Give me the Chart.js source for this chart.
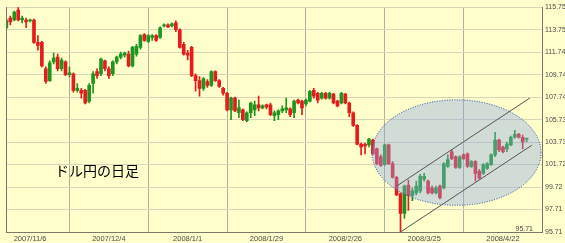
<!DOCTYPE html>
<html><head><meta charset="utf-8">
<script src="https://cdn.jsdelivr.net/npm/chart.js@4.4.1/dist/chart.umd.min.js"></script>
<style>html,body{margin:0;padding:0;background:#ffffcc;overflow:hidden;} canvas{display:block;}</style>
</head><body>
<canvas id="c" width="565" height="243"></canvas>
<script>
// ---- data (USD/JPY daily) ----
const xTickIdx = [6, 26, 46, 66, 86, 106, 126];
const xTickLabels = ['2007/11/6', '2007/12/4', '2008/1/1', '2008/1/29', '2008/2/26', '2008/3/25', '2008/4/22'];
const yTickValues = [95.71, 97.714, 99.718, 101.722, 103.726, 105.73, 107.734, 109.738, 111.742, 113.746, 115.75];
const yTickLabels = ['95.71', '97.71', '99.72', '101.72', '103.73', '105.73', '107.74', '109.74', '111.74', '113.75', '115.75'];

const open = [
113.92,114.79,114.61,115.49,114.61,114.61,114.53,114.61,112.61,112.61,
110.26,109.21,110.87,111.30,110.26,110.87,109.74,109.82,108.34,108.34,
108.34,107.38,108.95,110.00,109.82,110.96,110.26,109.82,110.87,111.30,
111.48,111.57,110.52,111.57,112.17,113.31,112.70,113.05,113.22,113.05,
114.09,114.18,114.09,114.35,113.74,112.44,111.65,112.17,109.65,109.21,
108.52,109.13,108.78,110.00,109.21,108.52,108.08,106.60,107.65,106.34,
106.60,105.64,106.34,106.60,107.04,106.77,107.04,107.04,106.08,106.17,
106.51,106.60,106.69,106.34,107.47,107.38,107.12,107.38,108.34,108.08,
107.65,108.08,107.65,108.00,107.38,107.21,108.00,107.21,106.34,105.21,
103.55,103.55,103.47,103.90,103.12,102.42,101.72,103.47,101.81,100.59,
99.11,97.37,99.89,98.94,99.20,99.37,100.42,100.24,99.63,99.20,
99.81,99.63,101.55,102.86,102.42,101.46,102.59,102.68,101.55,101.98,
101.11,100.94,101.38,101.72,102.59,103.90,103.29,103.12,103.47,104.16,
104.42,104.16,103.99
];
const high = [
114.79,114.96,115.40,115.83,114.96,114.79,114.70,114.70,113.22,112.70,
110.43,110.96,111.65,111.57,111.22,110.96,110.43,109.91,108.95,108.52,
108.43,108.95,110.00,110.26,111.22,111.04,110.43,110.96,111.39,111.74,
111.74,111.83,112.26,112.44,113.31,113.39,113.31,113.31,113.31,114.00,
114.27,114.27,114.35,114.53,113.83,112.61,111.91,112.26,109.82,109.56,
109.47,109.30,110.08,110.08,109.30,108.60,108.17,107.73,107.73,107.47,
106.69,106.43,107.30,107.38,107.82,107.04,107.12,107.21,106.51,106.60,
106.95,107.65,106.77,107.47,107.56,107.47,107.56,108.34,108.52,108.17,
108.17,108.17,108.17,108.08,107.47,108.17,108.08,107.30,106.43,105.29,
103.64,103.64,104.07,103.99,103.20,102.59,103.55,103.55,101.98,100.68,
99.20,99.89,100.33,99.63,100.24,100.85,100.94,100.33,99.81,99.81,
99.89,101.90,102.59,103.03,102.51,102.51,102.68,102.77,102.07,102.07,
101.29,101.81,101.90,102.68,104.60,103.99,103.38,103.73,104.25,104.77,
104.51,104.34,104.07
];
const low = [
113.74,114.18,114.53,114.53,114.35,113.92,114.44,112.52,111.91,110.43,
108.95,109.13,110.69,110.08,110.08,109.65,109.56,108.17,108.17,107.65,
107.12,107.21,108.08,109.39,109.65,110.08,109.39,109.65,110.69,111.13,
111.30,110.43,110.43,111.39,112.00,112.70,112.61,112.78,112.70,112.96,
114.00,113.92,114.00,113.57,112.09,111.48,111.04,109.56,108.26,107.82,
108.34,108.60,108.69,109.13,108.60,107.91,106.51,105.73,106.43,105.90,
105.64,105.55,105.90,106.08,106.51,106.69,106.69,106.08,105.64,105.73,
106.34,106.34,105.99,105.90,107.12,106.17,106.95,107.30,107.65,107.21,
107.56,107.56,107.56,107.12,106.86,107.12,107.12,105.99,105.12,103.47,
102.59,102.68,103.29,102.59,101.72,101.55,101.64,101.72,100.50,98.94,
95.71,96.93,97.63,98.50,99.02,99.20,100.24,99.11,99.11,99.11,
98.67,99.55,101.46,102.16,101.38,101.38,102.16,101.46,101.46,100.24,
100.42,100.85,101.29,101.64,102.42,102.86,102.77,102.86,103.38,104.07,
104.07,103.12,103.73
];
const close = [
114.61,114.44,115.31,114.61,114.79,114.44,114.61,112.61,112.35,110.52,
109.13,110.78,111.22,110.26,111.04,109.74,109.91,108.34,108.52,108.08,
107.21,108.78,109.82,109.65,111.13,110.26,109.65,110.87,111.30,111.57,
111.65,110.52,112.17,112.26,113.22,112.78,113.22,113.22,112.78,113.92,
114.18,114.00,114.27,113.74,112.17,111.57,111.48,109.65,109.21,108.52,
109.39,108.78,110.00,109.21,108.69,108.08,106.60,107.65,106.51,106.77,
105.73,106.34,107.21,107.04,106.77,106.95,106.86,106.17,106.34,106.51,
106.69,106.77,106.17,107.38,107.21,106.77,107.47,108.26,107.82,107.47,
108.08,107.65,108.08,107.21,106.95,108.08,107.21,106.34,105.21,103.55,
103.29,103.38,103.99,102.68,101.81,101.64,103.47,101.81,100.59,99.02,
97.37,99.81,98.94,99.37,99.81,100.68,100.68,99.20,99.20,99.63,
98.76,101.81,102.16,102.25,101.46,102.42,102.25,101.55,101.98,100.94,
100.50,101.72,101.81,102.59,103.90,103.03,102.86,103.55,104.16,104.42,
104.16,103.73,104.07
];

// annotations (in data units: [day index, price])
const ellipseCenter = [114.2, 102.79];
const ellipseRadius = [21.44, 4.70];
const channelLower = [[100, 95.71], [133.3, 103.44]];
const channelUpper = [[99, 99.80], [132.8, 107.65]];
const lowLabel = '95.71';
const titleText = 'ドル円の日足';

// ---- chart ----
const idx = open.map((_, i) => i);
const UP = '#1d961d', DOWN = '#e41c1c';
const colorOf = i => (close[i] >= open[i] ? UP : DOWN);

const overlay = {
  id: 'overlay',
  beforeDraw(chart) {
    const ctx = chart.ctx;
    ctx.save();
    ctx.fillStyle = '#ffffcc';
    ctx.fillRect(0, 0, chart.width, chart.height);
    ctx.restore();
  },
  afterDatasetsDraw(chart) {
    const ctx = chart.ctx, a = chart.chartArea;
    const xs = chart.scales.x, ys = chart.scales.y;
    ctx.save();
    ctx.beginPath();
    ctx.rect(a.left, a.top, a.right - a.left, a.bottom - a.top);
    ctx.clip();
    // ellipse
    const cx = xs.getPixelForValue(ellipseCenter[0]);
    const cy = ys.getPixelForValue(ellipseCenter[1]);
    const rx = xs.getPixelForValue(ellipseCenter[0] + ellipseRadius[0]) - cx;
    const ry = cy - ys.getPixelForValue(ellipseCenter[1] + ellipseRadius[1]);
    ctx.beginPath();
    ctx.ellipse(cx, cy, rx, ry, 0, 0, Math.PI * 2);
    ctx.fillStyle = 'rgba(142,167,231,0.40)';
    ctx.fill();
    ctx.setLineDash([1, 1.5]);
    ctx.strokeStyle = '#2846a8';
    ctx.lineWidth = 1;
    ctx.stroke();
    ctx.setLineDash([]);
    // channel lines
    ctx.strokeStyle = '#555555';
    ctx.lineWidth = 1;
    [channelLower, channelUpper].forEach(l => {
      ctx.beginPath();
      ctx.moveTo(xs.getPixelForValue(l[0][0]), ys.getPixelForValue(l[0][1]));
      ctx.lineTo(xs.getPixelForValue(l[1][0]), ys.getPixelForValue(l[1][1]));
      ctx.stroke();
    });
    ctx.restore();
    // left axis line
    ctx.save();
    ctx.strokeStyle = '#7a7a6a';
    ctx.lineWidth = 1;
    ctx.beginPath();
    ctx.moveTo(a.left + 0.5, a.top);
    ctx.lineTo(a.left + 0.5, a.bottom);
    ctx.stroke();
    // low label
    ctx.font = '7px "Liberation Sans", Arial, sans-serif';
    ctx.fillStyle = '#444444';
    ctx.textAlign = 'right';
    ctx.textBaseline = 'alphabetic';
    ctx.fillText(lowLabel, a.right - 9, ys.getPixelForValue(95.71) - 1);
    // title text
    ctx.font = '14px "Noto Sans CJK JP", sans-serif';
    ctx.fillStyle = '#000000';
    ctx.textAlign = 'left';
    ctx.textBaseline = 'middle';
    ctx.fillText(titleText, 55, 171);
    ctx.restore();
  }
};

new Chart(document.getElementById('c'), {
  type: 'bar',
  data: {
    datasets: [
      {
        label: 'wick',
        data: idx.map(i => ({ x: i, y: [low[i], high[i]] })),
        backgroundColor: idx.map(colorOf),
        barThickness: 1,
        grouped: false,
        minBarLength: 1,
        order: 2
      },
      {
        label: 'body',
        data: idx.map(i => ({ x: i, y: [Math.min(open[i], close[i]), Math.max(open[i], close[i])] })),
        backgroundColor: idx.map(colorOf),
        barThickness: 3,
        grouped: false,
        minBarLength: 1,
        order: 1
      }
    ]
  },
  options: {
    responsive: false,
    devicePixelRatio: 1,
    animation: false,
    layout: { autoPadding: false, padding: { left: 6, top: 2, right: 0, bottom: 0 } },
    plugins: { legend: { display: false }, tooltip: { enabled: false } },
    scales: {
      x: {
        type: 'linear',
        min: -0.1,
        max: 135.9,
        offset: false,
        afterBuildTicks: s => { s.ticks = xTickIdx.map(v => ({ value: v })); },
        afterFit: s => { s.height = 11; },
        ticks: {
          autoSkip: false,
          maxRotation: 0,
          padding: 2,
          color: '#4a4a4a',
          font: { family: '"Liberation Sans", Arial, sans-serif', size: 7.5 },
          callback: (v, i) => xTickLabels[i]
        },
        grid: { color: '#b0b09c', drawTicks: false, lineWidth: 1 },
        border: { display: true, color: '#7a7a6a' }
      },
      y: {
        type: 'linear',
        position: 'right',
        min: 95.71,
        max: 115.75,
        afterBuildTicks: s => { s.ticks = yTickValues.map(v => ({ value: v })); },
        afterFit: s => { s.width = 23; },
        ticks: {
          autoSkip: false,
          padding: 3,
          color: '#4a4a4a',
          font: { family: '"Liberation Sans", Arial, sans-serif', size: 7 },
          callback: (v, i) => yTickLabels[i]
        },
        grid: { color: '#d6d6b8', drawTicks: false, lineWidth: 1 },
        border: { display: true, color: '#7a7a6a' }
      }
    }
  },
  plugins: [overlay]
});
</script>
</body></html>
